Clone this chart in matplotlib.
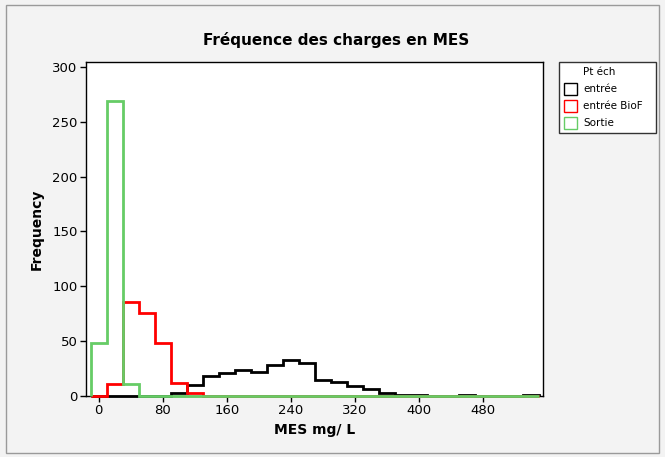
import numpy as np
import matplotlib
matplotlib.use("Agg")
import matplotlib.pyplot as plt
from matplotlib.patches import Rectangle

# ---- data (bin centres every 20 mg/L, from 0 to 540) ----
bin_centers = list(range(0, 560, 20))
entree = [0, 0, 0, 0, 0, 3, 10, 18, 21, 24, 22, 28, 33, 30, 15, 13, 9, 6, 3, 1, 1, 0, 0, 1, 0, 0, 0, 1]
entree_biof = [0, 11, 86, 76, 48, 12, 3, 0, 0, 0, 0, 0, 0, 0, 0, 0, 0, 0, 0, 0, 0, 0, 0, 0, 0, 0, 0, 0]
sortie = [48, 269, 11, 0, 0, 0, 0, 0, 0, 0, 0, 0, 0, 0, 0, 0, 0, 0, 0, 0, 0, 0, 0, 0, 0, 0, 0, 0]
series_names = ["entrée", "entrée BioF", "Sortie"]
series_colors = ["#000000", "#FF0000", "#66CC66"]
x_ticks = [0, 80, 160, 240, 320, 400, 480]
y_ticks = [0, 50, 100, 150, 200, 250, 300]

title = "Fréquence des charges en MES"
xlabel = "MES mg/ L"
ylabel = "Frequency"
legend_title = "Pt éch"

plt.rcParams['font.family'] = ['DejaVu Sans']

W, H = 665, 457
fig = plt.figure(figsize=(W / 100, H / 100), dpi=100)
fig.patch.set_facecolor("#F3F3F3")

# outer border
fig.add_artist(Rectangle((6 / W, 4 / H), (W - 12) / W, (H - 9) / H, transform=fig.transFigure,
                         fill=False, edgecolor="#9A9A9A", lw=1))

ax = fig.add_axes([86 / W, 1 - 396 / H, (543 - 86) / W, (396 - 62) / H])
ax.set_facecolor("white")

centers = np.array(bin_centers)
edges = np.concatenate([centers - 10, [centers[-1] + 10]])
for vals, col in zip([entree, entree_biof, sortie], series_colors):
    ax.stairs(vals, edges, baseline=0, fill=False, color=col, lw=2, zorder=3, clip_on=False)

ax.set_xlim(-16, 555)
ax.set_ylim(0, 304.5)
ax.set_xticks(x_ticks)
ax.set_yticks(y_ticks)
ax.tick_params(direction="out", length=4, width=1, labelsize=9.5, pad=2, colors="black")
for s in ax.spines.values():
    s.set_linewidth(1)
    s.set_color("black")

ax.set_xlabel(xlabel, fontsize=10, fontweight="bold", labelpad=4)
ax.set_ylabel(ylabel, fontsize=10, fontweight="bold", labelpad=6)
fig.text(336 / W, 1 - 40 / H, title, ha="center", va="center", fontsize=11, fontweight="bold")

# legend box (manual, figure coords)
lx0, lx1, ly0, ly1 = 559, 656, 62, 133
fig.add_artist(Rectangle((lx0 / W, 1 - ly1 / H), (lx1 - lx0) / W, (ly1 - ly0) / H,
                         transform=fig.transFigure, facecolor="white", edgecolor="#333333", lw=1))
fig.text(583 / W, 1 - 72 / H, legend_title, ha="left", va="center", fontsize=7.5)
for i, (name, col) in enumerate(zip(series_names, series_colors)):
    yc = 89 + i * 16.8
    fig.add_artist(Rectangle((564 / W, 1 - (yc + 6) / H), 13 / W, 12 / H, transform=fig.transFigure,
                             facecolor="white", edgecolor=col, lw=1))
    fig.text(583 / W, 1 - yc / H, name, ha="left", va="center", fontsize=7.5)

fig.savefig("out.png", dpi=100, facecolor=fig.get_facecolor())
